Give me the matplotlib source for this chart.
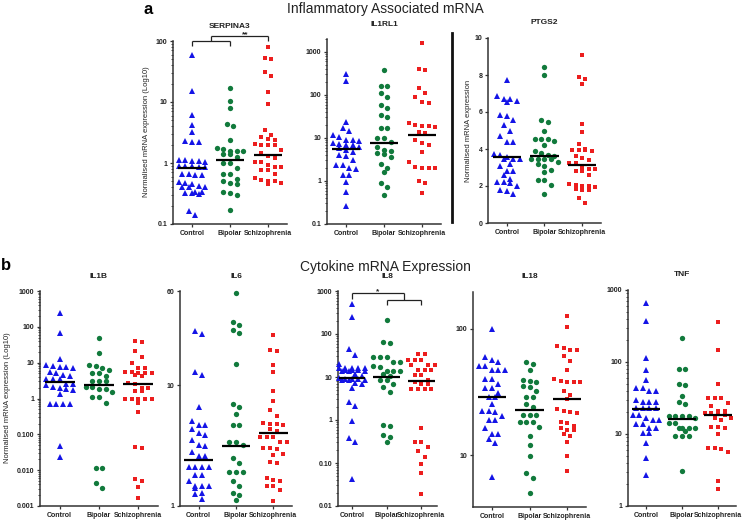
import numpy as np
import matplotlib
matplotlib.use('Agg')
import matplotlib.pyplot as plt
from matplotlib.ticker import FixedLocator, NullFormatter, LogLocator
from matplotlib.lines import Line2D
import matplotlib.transforms as mtrans

plt.rcParams['font.family'] = ['Liberation Sans', 'DejaVu Sans']

groups = ['Control', 'Bipolar', 'Schizophrenia']
colors = ['#1414e6', '#117a3c', '#ec1e1e']
markers = ['^', 'o', 's']

# ---------------- data ----------------
serpina3_control = [60, 15, 6.2, 4.2, 3.2, 2.3, 2.2, 2.25, 1.1, 1.08, 1.05, 1.1, 1.07, 0.9, 0.88,
                    0.87, 0.86, 0.9, 0.65, 0.64, 0.63, 0.65, 0.48, 0.47, 0.46, 0.41, 0.40, 0.42, 0.41,
                    0.33, 0.32, 0.32, 0.31, 0.33, 0.165, 0.14]
serpina3_bipolar = [17.2, 10.4, 8.1, 4.4, 4.0, 2.4, 1.7, 1.75, 1.6, 1.55, 1.6, 1.4, 1.4, 1.27, 1.0, 1.0,
                    0.82, 0.65, 0.65, 0.55, 0.5, 0.45, 0.47, 0.34, 0.3, 0.32, 0.17]
serpina3_schizo = [81, 53, 51, 31, 27, 14.6, 9.2, 3.5, 2.9, 2.7, 2.5, 2.4, 2.0, 2.0, 2.05, 1.95, 1.65,
                   1.45, 1.28, 1.2, 1.05, 1.05, 0.93, 0.87, 0.86, 0.77, 0.76, 0.66, 0.57, 0.53, 0.5,
                   0.5, 0.47, 0.46]
serpina3_median = [0.82, 1.12, 1.35]

il1rl1_control = [315, 212, 23.8, 16.7, 14.7, 11.5, 10.7, 8.9, 8.9, 8.7, 7.5, 6.9, 7.2, 7.0, 6.2, 5.7,
                  5.2, 4.8, 4.0, 3.8, 3.07, 2.4, 2.4, 1.97, 1.9, 1.38, 1.38, 0.96, 0.54, 0.26]
il1rl1_bipolar = [390, 163, 160, 112, 90, 58, 51, 34, 31, 17.3, 16.7, 10, 9.8, 8.2, 6.3, 5.0, 5.2,
                  4.5, 4.2, 3.7, 2.5, 2.0, 1.6, 0.92, 0.71, 0.47]
il1rl1_schizo = [1620, 410, 375, 149, 112, 90, 69, 66, 22, 20, 18.9, 18, 18.9, 14, 13, 8.9, 7.5, 6.8,
                 4.8, 2.7, 2.15, 2.0, 1.97, 2.0, 1.0, 0.88, 0.52]
il1rl1_median = [5.5, 7.7, 11.7]

ptgs2_control = [7.75, 6.85, 6.7, 6.52, 6.61, 6.7, 5.77, 5.86, 5.59, 5.3, 4.99, 4.68, 4.38, 4.38,
                 3.75, 3.7, 3.57, 3.46, 3.46, 3.46, 3.2, 3.1, 2.79, 2.79, 2.61, 2.4, 2.2, 2.16, 2.2,
                 1.98, 1.77, 1.71, 1.59]
ptgs2_bipolar = [8.41, 8.0, 5.55, 5.46, 4.99, 4.56, 4.41, 4.2, 4.54, 4.56, 3.87, 3.69, 3.78, 3.64,
                 3.46, 3.46, 3.46, 3.46, 3.28, 3.2, 3.1, 2.88, 2.74, 2.34, 2.34, 2.05, 1.57]
ptgs2_schizo = [9.1, 7.8, 7.9, 7.51, 5.37, 4.9, 4.29, 3.95, 3.96, 3.9, 3.95, 4.0, 3.6, 3.51, 3.39,
                3.24, 3.24, 3.0, 2.92, 2.92, 2.79, 2.79, 2.61, 2.04, 2.02, 1.95, 1.98, 2.1, 1.8, 1.82,
                1.76, 1.33, 1.08]
ptgs2_median = [3.58, 3.6, 3.12]

il1b_control = [248, 69, 12.5, 8.1, 7.5, 7.8, 7.0, 8.5, 5.3, 5.5, 4.3, 4.4, 3.5, 3.4, 3.6, 2.5, 2.5,
                2.4, 2.0, 2.1, 1.7, 1.8, 1.3, 0.72, 0.72, 0.72, 0.72, 0.046, 0.024]
il1b_bipolar = [48, 19, 8.7, 8.1, 7.0, 6.2, 5.0, 5.1, 4.2, 3.1, 3.1, 3.1, 2.1, 2.1, 1.8, 1.8, 1.55,
                1.1, 1.1, 0.77, 0.0114, 0.0114, 0.0043, 0.0031]
il1b_schizo = [40, 38, 21, 14.5, 10, 7, 7.2, 5.3, 5.2, 5.4, 5.5, 5.0, 4.3, 4.4, 2.6, 2.7, 2.0, 2.0,
               1.6, 1.6, 1.0, 1.0, 1.0, 1.0, 1.0, 0.77, 0.41, 0.045, 0.041, 0.0049, 0.0057,
               0.0033, 0.0017]
il1b_median = [2.8, 2.35, 2.6]

il6_control = [27.8, 26.6, 12.2, 12.8, 6.6, 5.0, 4.7, 4.7, 4.3, 4.0, 3.9, 3.5, 3.2, 3.15, 2.8, 2.6,
               2.6, 2.12, 2.12, 2.1, 2.1, 1.8, 1.8, 1.6, 1.45, 1.45, 1.45, 1.42, 1.25, 1.27, 1.14]
il6_bipolar = [57.8, 31.6, 33, 28.8, 27, 14.9, 7.0, 6.6, 5.8, 4.7, 4.7, 3.4, 3.4, 3.2, 2.48, 2.28,
               1.9, 1.9, 1.9, 1.62, 1.45, 1.29, 1.23, 1.12]
il6_schizo = [25.8, 19, 19.4, 14.7, 12.8, 9.0, 7.4, 6.2, 5.6, 4.8, 4.8, 4.7, 4.9, 4.3, 4.2, 3.75,
              3.75, 3.7, 3.4, 3.4, 3.0, 3.0, 2.95, 2.7, 2.65, 2.3, 2.25, 1.7, 1.64, 1.6, 1.46,
              1.46, 1.36, 1.09]
il6_median = [2.39, 3.16, 4.05]

il8_control = [500, 245, 45, 33, 20, 16.5, 16.2, 16, 16, 15.8, 14.5, 14.3, 14.2, 14, 14, 13.8, 11.5,
               10.5, 9.5, 9.2, 9, 8.8, 8.7, 8.6, 8.5, 7.1, 7.0, 5.5, 2.6, 2.1, 0.95, 0.38, 0.3, 0.043]
il8_bipolar = [217, 61, 64, 29, 29, 29, 22, 22, 17.6, 17, 14, 14, 14, 12, 10.5, 8.3, 8.6, 7, 5.8,
               4.5, 0.72, 0.75, 0.44, 0.4, 0.3]
il8_schizo = [34.7, 34.7, 25, 25, 25, 18.6, 18.6, 18.6, 14.3, 14.3, 14.3, 10.9, 10.9, 8.5, 7.5, 6.7,
              6.7, 5.3, 5.3, 5.3, 5.3, 0.66, 0.31, 0.31, 0.24, 0.19, 0.14, 0.097, 0.059, 0.0194]
il8_median = [9.6, 10, 8.0]

il18_control = [100, 59.7, 56.9, 54.6, 50.4, 50.4, 47.5, 47.5, 47.5, 40.3, 40.3, 36.8, 33.7, 33.7,
                31, 28.9, 28.9, 25.6, 22.4, 22.4, 22, 20.3, 19, 19, 16.3, 14.8, 14.8, 13.5, 12.4,
                6.7]
il18_bipolar = [53, 55, 47, 38.6, 37.9, 39.6, 35, 34.6, 32, 28.9, 28.9, 25.3, 24, 20.7, 20.7, 20.7,
                18.3, 18.3, 18.3, 16.7, 14.2, 12, 9.8, 7.3, 6.6, 5.0]
il18_schizo = [125, 104, 70.8, 67.4, 67.4, 72.5, 60.4, 56, 46.9, 38.8, 37.9, 37.9, 37.9, 39.8, 32,
               30, 28, 23.4, 22.4, 22, 21.5, 18.3, 18.1, 17, 16.3, 15.8, 15.8, 14.6, 14.3, 12.7,
               9.8, 7.5]
il18_median = [28.9, 22.9, 28.0]

tnf_control = [653, 370, 115, 77, 57, 43, 43, 39.5, 39.5, 30, 28, 28, 28, 22.7, 22.7, 22.7, 22.7,
               18.4, 18.4, 16.5, 15.6, 15.6, 13.6, 13.6, 12, 12, 10.2, 10.2, 7.4, 4.6, 2.7]
tnf_bipolar = [217, 80, 80, 49.5, 47.8, 34, 28, 25.8, 17.8, 17.8, 17.8, 17.8, 16.5, 14.4, 14.4, 12,
               12, 12, 12, 11, 9.4, 9.4, 9.4, 3.1]
tnf_schizo = [362, 147, 49.5, 32, 32, 32, 27, 24.7, 21, 21, 19.3, 19.3, 19.3, 18.5, 16.5, 16.5,
              15.6, 12.6, 12.6, 12, 10, 6.4, 6.4, 5.7, 6.2, 2.2, 1.7]
tnf_median = [22.5, 16.3, 18.3]

# ---------------- layout ----------------
W, H = 750, 520
fig = plt.figure(figsize=(W / 100, H / 100), dpi=100)

def px_axes(l, t, r, b):
    return fig.add_axes([l / W, 1 - b / H, (r - l) / W, (b - t) / H])

panels = [
    dict(title='SERPINA3', data=[serpina3_control, serpina3_bipolar, serpina3_schizo], med=serpina3_median,
         rect=(173, 41, 287, 224), log=True, ylim=(0.1, 100), ticks=[0.1, 1, 10, 100],
         labels=['0.1', '1', '10', '100'], xlim=(-0.5, 2.5), minor=True),
    dict(title='IL1RL1', data=[il1rl1_control, il1rl1_bipolar, il1rl1_schizo], med=il1rl1_median,
         rect=(327, 39, 441, 224), log=True, ylim=(0.1, 2000), ticks=[0.1, 1, 10, 100, 1000],
         labels=['0.1', '1', '10', '100', '1000'], xlim=(-0.5, 2.5), minor=True),
    dict(title='PTGS2', data=[ptgs2_control, ptgs2_bipolar, ptgs2_schizo], med=ptgs2_median,
         rect=(488, 38, 601, 223), log=False, ylim=(0, 10), ticks=[0, 2, 4, 6, 8, 10],
         labels=['0', '2', '4', '6', '8', '10'], xlim=(-0.5, 2.5), minor=False),
    dict(title='IL1B', data=[il1b_control, il1b_bipolar, il1b_schizo], med=il1b_median,
         rect=(40, 291, 158, 506), log=True, ylim=(0.001, 1000),
         ticks=[0.001, 0.01, 0.1, 1, 10, 100, 1000],
         labels=['0.001', '0.010', '0.100', '1', '10', '100', '1000'], xlim=(-0.5, 2.5), minor=True),
    dict(title='IL6', data=[il6_control, il6_bipolar, il6_schizo], med=il6_median,
         rect=(180, 291, 292, 506), log=True, ylim=(1, 60), ticks=[1, 10, 60],
         labels=['1', '10', '60'], xlim=(-0.5, 2.5), minor=False),
    dict(title='IL8', data=[il8_control, il8_bipolar, il8_schizo], med=il8_median,
         rect=(338, 291, 437, 506), log=True, ylim=(0.01, 1000),
         ticks=[0.01, 0.1, 1, 10, 100, 1000],
         labels=['0.01', '0.10', '1', '10', '100', '1000'], xlim=(-0.4, 2.45), minor=True),
    dict(title='IL18', data=[il18_control, il18_bipolar, il18_schizo], med=il18_median,
         rect=(473, 292, 586, 507), log=True, ylim=(3.9, 195), ticks=[10, 100],
         labels=['10', '100'], xlim=(-0.5, 2.5), minor=False),
    dict(title='TNF', data=[tnf_control, tnf_bipolar, tnf_schizo], med=tnf_median,
         rect=(628, 290, 736, 506), log=True, ylim=(1, 1000), ticks=[1, 10, 100, 1000],
         labels=['1', '10', '100', '1000'], xlim=(-0.5, 2.5), minor=True),
]

MARKER_PX = 5.6
ROW_PX = 6.0     # points closer than this (vertically) share a row
STEP_PX = 6.6    # horizontal spacing inside a row
MAX_ROW = 5

def row_positions(ax, x0, vals):
    """Prism-like column scatter: points close in y are put in centred rows."""
    vals = np.asarray(vals, dtype=float)
    ys = ax.transData.transform(np.column_stack([np.full(len(vals), x0), vals]))[:, 1]
    order = np.argsort(-ys)
    rows, cur = [], []
    for i in order:
        if cur and ((ys[cur[0]] - ys[i]) >= ROW_PX or len(cur) >= MAX_ROW):
            rows.append(cur)
            cur = []
        cur.append(i)
    if cur:
        rows.append(cur)
    offs = np.zeros(len(vals))
    for r in rows:
        n = len(r)
        for j, i in enumerate(r):
            offs[i] = (j - (n - 1) / 2) * STEP_PX
    x_px_per_unit = (ax.transData.transform((1, 1))[0] - ax.transData.transform((0, 1))[0])
    return x0 + offs / x_px_per_unit

sizes = {'^': MARKER_PX * 0.72 * 1.05, 'o': MARKER_PX * 0.72 * 0.95, 's': MARKER_PX * 0.72 * 0.88}

axes = {}
for p in panels:
    ax = px_axes(*p['rect'])
    axes[p['title']] = ax
    if p['log']:
        ax.set_yscale('log')
    ax.set_ylim(*p['ylim'])
    ax.set_xlim(*p['xlim'])
    for k, vals in enumerate(p['data']):
        xs = row_positions(ax, k, vals)
        ax.plot(xs, vals, linestyle='none', marker=markers[k], color=colors[k],
                markersize=sizes[markers[k]], markeredgewidth=0, clip_on=False, zorder=3)
        ax.plot([k - 0.38, k + 0.38], [p['med'][k]] * 2, color='black', lw=1.6,
                solid_capstyle='butt', zorder=4)
    ax.yaxis.set_major_locator(FixedLocator(p['ticks']))
    ax.set_yticklabels(p['labels'])
    if p['log']:
        if p['minor']:
            ax.yaxis.set_minor_locator(LogLocator(base=10, subs=np.arange(2, 10)))
        else:
            ax.yaxis.set_minor_locator(FixedLocator([]))
        ax.yaxis.set_minor_formatter(NullFormatter())
    ax.set_xticks([0, 1, 2])
    ax.set_xticklabels(groups)
    for s in ['top', 'right']:
        ax.spines[s].set_visible(False)
    for s in ['left', 'bottom']:
        ax.spines[s].set_linewidth(1.1)
        ax.spines[s].set_color('#333333')
    ax.tick_params(axis='both', which='major', length=2.5, width=0.9, color='#333333',
                   labelsize=5, pad=1.5, labelcolor='#222222')
    ax.tick_params(axis='y', which='minor', length=1.3, width=0.6, color='#333333')
    for lab in ax.get_xticklabels() + ax.get_yticklabels():
        lab.set_fontweight('bold')
    ax.patch.set_alpha(0)
    l, t, r, b = p['rect']
    fig.text(((l + r) / 2) / W, 1 - (t - 15) / H, p['title'], ha='center', va='center',
             fontsize=6, fontweight='bold', color='#222222')

# y labels
fig.text(147 / W, 1 - 132 / H, 'Normalised mRNA expression (Log10)', rotation=90,
         ha='center', va='center', fontsize=5.5, color='#222222')
fig.text(469 / W, 1 - 131 / H, 'Normalised mRNA expression', rotation=90,
         ha='center', va='center', fontsize=5.5, color='#222222')
fig.text(8 / W, 1 - 398 / H, 'Normalised mRNA expression (Log10)', rotation=90,
         ha='center', va='center', fontsize=5.5, color='#222222')

# headers
fig.text(148 / W, 1 - 10 / H, 'a', fontsize=12, fontweight='bold', ha='center', va='center')
fig.text(385 / W, 1 - 9 / H, 'Inflammatory Associated mRNA', fontsize=10, ha='center', va='center',
         color='#222222')
fig.text(6 / W, 1 - 266 / H, 'b', fontsize=12, fontweight='bold', ha='center', va='center')
fig.text(385 / W, 1 - 267 / H, 'Cytokine mRNA Expression', fontsize=10, ha='center', va='center',
         color='#222222')

# separator line
fig.add_artist(Line2D([452 / W, 452 / W], [1 - 33 / H, 1 - 222 / H], lw=2, color='#111111'))

# significance brackets
def bracket(ax, segs, star, sx, sy):
    tr = mtrans.blended_transform_factory(ax.transData, ax.transAxes)
    for (xa, ya), (xb, yb) in segs:
        ax.plot([xa, xb], [ya, yb], color='#222222', lw=0.9, transform=tr, clip_on=False,
                solid_capstyle='butt')
    ax.text(sx, sy, star, transform=tr, ha='center', va='bottom', fontsize=6, fontweight='bold',
            color='#222222')

ax = axes['SERPINA3']
bracket(ax, [((0, 0.975), (0, 1.0)), ((0, 1.0), (1, 1.0)), ((1, 1.0), (1, 0.975)),
             ((0.5, 1.0), (0.5, 1.03)), ((0.5, 1.03), (2, 1.03)), ((2, 1.03), (2, 1.0))],
        '**', 1.4, 1.015)
ax = axes['IL8']
bracket(ax, [((0, 0.965), (0, 0.99)), ((0, 0.99), (1.5, 0.99)), ((1.5, 0.99), (1.5, 0.96)),
             ((1, 0.96), (2, 0.96)), ((1, 0.96), (1, 0.935)), ((2, 0.96), (2, 0.935))],
        '*', 0.75, 0.98)

fig.savefig('out.png', dpi=100)
